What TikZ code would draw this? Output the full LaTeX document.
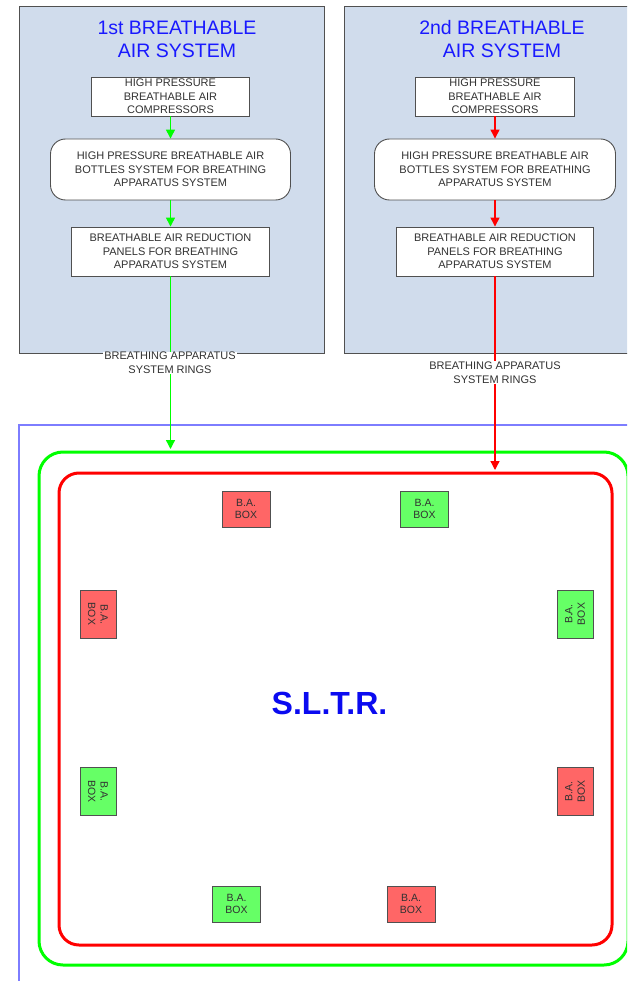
\documentclass[tikz,border=0pt]{standalone}
\usepackage{fontspec}
\setmainfont{Liberation Sans}
\usetikzlibrary{arrows.meta}
\definecolor{panelfill}{RGB}{208,220,236}
\definecolor{edgegray}{RGB}{80,80,80}
\definecolor{txtgray}{RGB}{50,50,50}
\definecolor{ringgreen}{RGB}{0,255,0}
\definecolor{ringred}{RGB}{255,0,0}
\definecolor{titleblue}{RGB}{25,25,255}
\definecolor{sltrblue}{RGB}{10,10,240}
\definecolor{outerblue}{RGB}{125,125,255}
\definecolor{bared}{RGB}{255,102,102}
\definecolor{bagreen}{RGB}{102,255,102}
\begin{document}
\begin{tikzpicture}[x=1pt,y=-1pt,
 panel/.style={draw=edgegray, fill=panelfill, line width=1pt, anchor=north west, inner sep=0pt},
 titletext/.style={text=titleblue, font=\fontsize{19.5}{23}\selectfont, align=center, inner sep=0pt},
 flowbox/.style={draw=edgegray, fill=white, line width=0.9pt, text=txtgray,
   font=\fontsize{11}{13.4}\selectfont, align=center, inner sep=0pt},
 ringlabel/.style={fill=white, text=txtgray, font=\fontsize{11}{13.6}\selectfont, align=center, inner sep=0.8pt},
 ring/.style={draw, line width=3pt, inner sep=0pt},
 babox/.style={draw=edgegray, line width=1pt, minimum width=48pt, minimum height=36pt, inner sep=0pt,
   text=txtgray, font=\fontsize{10.5}{12.6}\selectfont, align=center},
 garrow/.style={draw=ringgreen, line width=1.3pt, -{Triangle[length=9pt,width=9pt]}},
 rarrow/.style={draw=ringred, line width=1.3pt, -{Triangle[length=9pt,width=9pt]}}
]
\useasboundingbox (0,0) rectangle (627,981);
\clip (0,0) rectangle (627,981);

% panels
\node[panel, minimum width=305pt, minimum height=347pt] (lp) at (19,6) {};
\node[panel, minimum width=300pt, minimum height=347pt] (rp) at (344,6) {};

% titles
\node[titletext] (lt) at (177,39.5) {1st BREATHABLE\\AIR SYSTEM};
\node[titletext] (rt) at (502,39.5) {2nd BREATHABLE\\AIR SYSTEM};

% left flow
\node[flowbox, minimum width=158pt, minimum height=39pt] (l1) at (170.5,96.5) {HIGH PRESSURE\\BREATHABLE AIR\\COMPRESSORS};
\node[flowbox, rounded corners=15pt, minimum width=240pt, minimum height=61pt] (l2) at (170.5,169.5) {HIGH PRESSURE BREATHABLE AIR\\BOTTLES SYSTEM FOR BREATHING\\APPARATUS SYSTEM};
\node[flowbox, minimum width=198pt, minimum height=49pt] (l3) at (170.5,251.5) {BREATHABLE AIR REDUCTION\\PANELS FOR BREATHING\\APPARATUS SYSTEM};

% right flow
\node[flowbox, minimum width=159pt, minimum height=39pt] (r1) at (495,96.5) {HIGH PRESSURE\\BREATHABLE AIR\\COMPRESSORS};
\node[flowbox, rounded corners=15pt, minimum width=241pt, minimum height=61pt] (r2) at (495,169.5) {HIGH PRESSURE BREATHABLE AIR\\BOTTLES SYSTEM FOR BREATHING\\APPARATUS SYSTEM};
\node[flowbox, minimum width=197pt, minimum height=49pt] (r3) at (495,251.5) {BREATHABLE AIR REDUCTION\\PANELS FOR BREATHING\\APPARATUS SYSTEM};

% outer blue frame
\draw[outerblue, line width=1.2pt] (19,995) -- (19,425) -- (645,425);

% rings
\node[ring, draw=ringgreen, rounded corners=24pt, minimum width=589pt, minimum height=513pt] (gring) at (333.5,708.5) {};
\node[ring, draw=ringred, rounded corners=20pt, minimum width=553pt, minimum height=472pt] (rring) at (335.5,709) {};

% internal arrows
\draw[garrow] (l1.south) -- (l1.south |- l2.north);
\draw[garrow] (l2.south) -- (l2.south |- l3.north);
\draw[rarrow] (r1.south) -- (r1.south |- r2.north);
\draw[rarrow] (r2.south) -- (r2.south |- r3.north);

% ring connectors
\draw[garrow] (l3.south) -- ([yshift=1.5pt]l3.south |- gring.north);
\draw[rarrow] (r3.south) -- ([yshift=1.5pt]r3.south |- rring.north);

\node[ringlabel] (llab) at (170,363) {BREATHING APPARATUS\\SYSTEM RINGS};
\node[ringlabel] (rlab) at (495,372.5) {BREATHING APPARATUS\\SYSTEM RINGS};

% B.A. boxes
\node[babox, fill=bared] (ba1) at (246,509) {B.A.\\BOX};
\node[babox, fill=bagreen] (ba2) at (424.5,509) {B.A.\\BOX};
\node[babox, fill=bagreen] (ba3) at (575,614) [rotate=90] {B.A.\\BOX};
\node[babox, fill=bared] (ba4) at (575,791.5) [rotate=90] {B.A.\\BOX};
\node[babox, fill=bared] (ba5) at (411,904) {B.A.\\BOX};
\node[babox, fill=bagreen] (ba6) at (236.5,904) {B.A.\\BOX};
\node[babox, fill=bagreen] (ba7) at (98,791.5) [rotate=-90] {B.A.\\BOX};
\node[babox, fill=bared] (ba8) at (98,614) [rotate=-90] {B.A.\\BOX};

% centre label
\node[text=sltrblue, font=\fontsize{32}{36}\selectfont\bfseries, inner sep=0pt] (sltr) at (329.5,703) {S.L.T.R.};
\end{tikzpicture}
\end{document}
